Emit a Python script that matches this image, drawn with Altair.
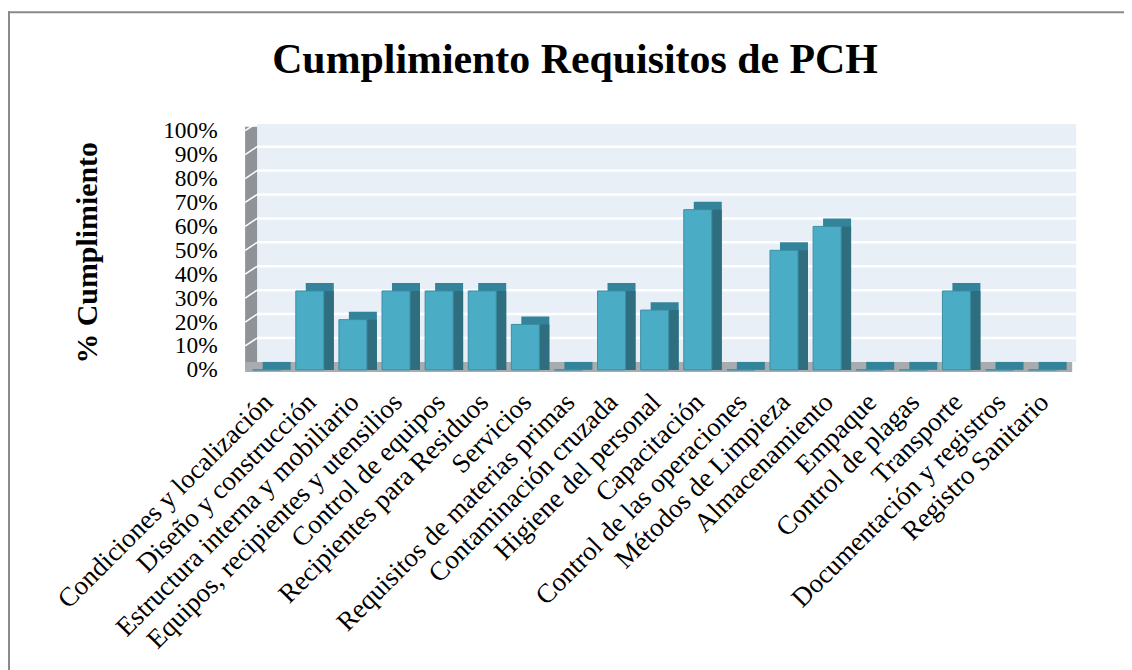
import altair as alt
import pandas as pd

categories = [
    "Condiciones y localización", "Diseño y construcción", "Estructura interna y mobiliario",
    "Equipos, recipientes y utensilios", "Control de equipos", "Recipientes para Residuos",
    "Servicios", "Requisitos de materias primas", "Contaminación cruzada", "Higiene del personal",
    "Capacitación", "Control de las operaciones", "Métodos de Limpieza", "Almacenamiento",
    "Empaque", "Control de plagas", "Transporte", "Documentación y registros", "Registro Sanitario",
]
values = [0.0, 0.33, 0.21, 0.33, 0.33, 0.33, 0.19, 0.0, 0.33, 0.25, 0.67, 0.0, 0.50, 0.60,
          0.0, 0.0, 0.33, 0.0, 0.0]
tick_values = [0.0, 0.1, 0.2, 0.3, 0.4, 0.5, 0.6, 0.7, 0.8, 0.9, 1.0]
title_text = ["Cumplimiento Requisitos de PCH"]

W = 822
H = 240
DX = 10
DY = 8
SERIF = "Liberation Serif"

df = pd.DataFrame({"cat": categories, "val": values, "base": [0.0] * len(values)})
grid_df = pd.DataFrame({"v": tick_values[1:]})
wall_df = pd.DataFrame({"top": [1.0], "bottom": [0.0]})
title_df = pd.DataFrame({"t": title_text})

yscale = alt.Scale(domain=[0, 1], nice=False, zero=True)
yaxis = alt.Axis(
    title="% Cumplimiento", values=tick_values, format=".0%", grid=False, domain=False,
    ticks=False, labelFont=SERIF, labelFontSize=23.5, labelColor="black", labelPadding=28,
    labelOverlap=False,
    titleFont=SERIF, titleFontSize=30, titleFontWeight="bold", titleColor="black",
    titleAngle=-90, titleX=-158, titleY=H / 2 + 2, titleAlign="center", titleBaseline="middle",
)
xscale = alt.Scale(paddingInner=0.35, paddingOuter=0.175)
xaxis = alt.Axis(
    title=None, labelAngle=-45, labelAlign="right", labelBaseline="middle",
    labelFont=SERIF, labelFontSize=27, labelColor="black", ticks=False, domain=False,
    labelPadding=28, labelOffset=2, labelOverlap=False, labelLimit=500,
)

def Y(field):
    return alt.Y(field, type="quantitative", scale=yscale, axis=yaxis)

X = alt.X("cat:N", sort=categories, scale=xscale, axis=xaxis)

back_wall = alt.Chart(wall_df).mark_rect(color="#E9EFF6", yOffset=-DY, y2Offset=-DY).encode(
    x=alt.value(DX + 2), x2=alt.value(W + DX + 2), y=Y("top"), y2="bottom:Q")
left_wall = alt.Chart(wall_df).mark_rect(color="#8F9397", yOffset=-4).encode(
    x=alt.value(0), x2=alt.value(DX + 2), y=Y("top"), y2="bottom:Q")
grid_back = alt.Chart(grid_df).mark_rule(color="white", strokeWidth=2.5, yOffset=-DY).encode(
    x=alt.value(DX + 2), x2=alt.value(W + DX + 2), y=Y("v"))
grid_left = alt.Chart(grid_df).mark_rule(color="white", strokeWidth=1.5, y2Offset=-DY).encode(
    x=alt.value(0), x2=alt.value(DX + 2), y=Y("v"), y2="v:Q")
floor = alt.Chart(wall_df).mark_rect(color="#A9ACAF", yOffset=-DY, y2Offset=2).encode(
    x=alt.value(0), x2=alt.value(W + 8), y=Y("bottom"), y2="bottom:Q")

top_face = alt.Chart(df).mark_bar(color="#33849A", xOffset=DX, yOffset=-DY, y2Offset=0).encode(
    x=X, y=Y("val"), y2="base:Q")
side_face = alt.Chart(df).mark_bar(color="#2E6E7F", xOffset=DX).encode(
    x=X, y=Y("val"), y2="base:Q")
front_face = alt.Chart(df).mark_bar(color="#4BACC6", stroke="#3A8EA5", strokeWidth=1).encode(
    x=X, y=Y("val"), y2="base:Q")

frame_left = alt.Chart(wall_df).mark_rule(color="#8A8A8A", strokeWidth=2).encode(
    x=alt.value(-237), y=alt.value(-120), y2=alt.value(560))
frame_top = alt.Chart(wall_df).mark_rule(color="#8A8A8A", strokeWidth=2).encode(
    x=alt.value(-238), x2=alt.value(W + 120), y=alt.value(-119))

title = alt.Chart(title_df).mark_text(
    font=SERIF, fontSize=42, fontWeight="bold", color="black", align="center",
    baseline="alphabetic",
).encode(x=alt.value(577 - 246), y=alt.value(72 - 130), text="t:N")

chart = alt.layer(
    back_wall, left_wall, grid_back, grid_left, floor,
    top_face, side_face, front_face, frame_left, frame_top, title,
).properties(
    width=W, height=H,
    autosize=alt.AutoSizeParams(type="none"),
    padding={"left": 238, "top": 122, "right": 60, "bottom": 300},
).configure_view(stroke=None).configure(font=SERIF, background="white")

chart.save("out.html", embed_options={"renderer": "svg", "actions": False})
